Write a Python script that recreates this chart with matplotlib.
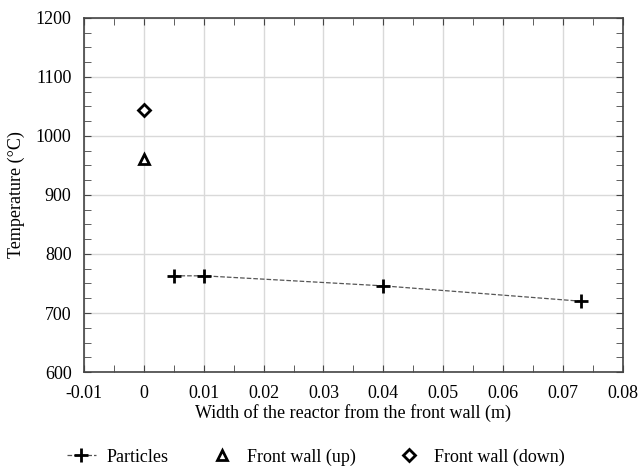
import numpy as np
import matplotlib.pyplot as plt
from matplotlib.ticker import MultipleLocator

plt.rcParams['font.family'] = ['Liberation Serif', 'DejaVu Serif']
plt.rcParams['font.size'] = 13

# data
particles_x = [0.005, 0.01, 0.04, 0.073]
particles_y = [763, 763, 746, 720]
wall_up_x = [0.0]
wall_up_y = [960]
wall_down_x = [0.0]
wall_down_y = [1043]

fig = plt.figure(figsize=(6.42, 4.68), dpi=100)
ax = fig.add_axes([0.131, 0.205, 0.839, 0.757])

ax.plot(particles_x, particles_y, color='#555555', linestyle='--', linewidth=0.9,
        marker='+', markersize=10, markeredgewidth=2, markeredgecolor='black',
        label='Particles')
ax.plot(wall_up_x, wall_up_y, linestyle='none', marker='^', markersize=7,
        markerfacecolor='white', markeredgecolor='black', markeredgewidth=2,
        label='Front wall (up)')
ax.plot(wall_down_x, wall_down_y, linestyle='none', marker='D', markersize=6,
        markerfacecolor='white', markeredgecolor='black', markeredgewidth=2,
        label='Front wall (down)')

ax.set_xlim(-0.01, 0.08)
ax.set_ylim(600, 1200)
ax.xaxis.set_minor_locator(MultipleLocator(0.005))
ax.yaxis.set_major_locator(MultipleLocator(100))
ax.yaxis.set_minor_locator(MultipleLocator(25))
ax.set_xticks(np.arange(-0.01, 0.081, 0.01))
ax.set_xticklabels(['-0.01', '0', '0.01', '0.02', '0.03', '0.04', '0.05', '0.06', '0.07', '0.08'])

ax.grid(True, which='major', color='#d9d9d9', linewidth=1)
ax.set_axisbelow(True)
ax.tick_params(which='both', direction='in', top=True, right=True, color='#444444')
ax.tick_params(which='major', length=5, pad=9)
ax.tick_params(which='minor', length=5)
for s in ax.spines.values():
    s.set_color('#444444')
    s.set_linewidth(1.2)

ax.set_xlabel('Width of the reactor from the front wall (m)', fontsize=13, labelpad=2)
ax.set_ylabel('Temperature (°C)', fontsize=13, labelpad=8)

fig.legend(loc='lower center', bbox_to_anchor=(0.492, -0.03), ncol=3, frameon=False,
           fontsize=13, columnspacing=2.15, handlelength=1.6, handletextpad=0.6)

fig.savefig('out.png', dpi=100)
